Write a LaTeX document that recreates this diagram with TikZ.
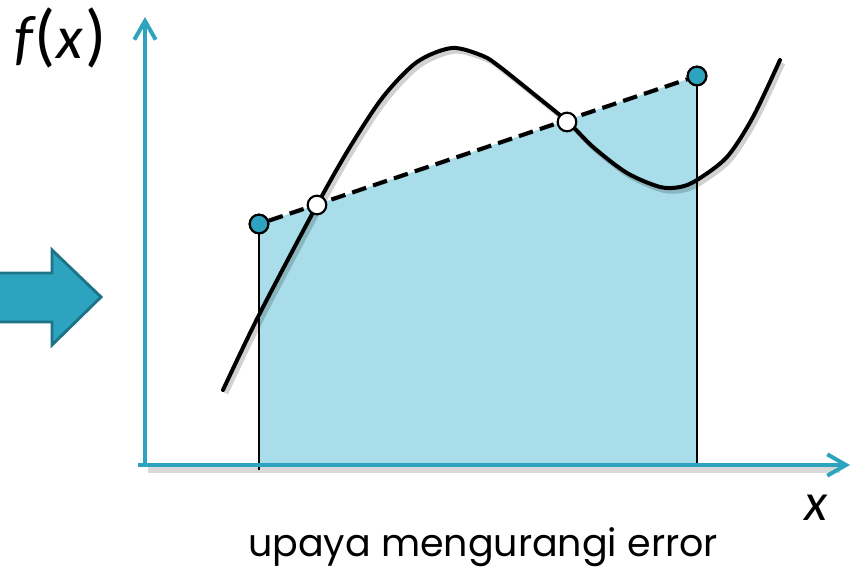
\documentclass[tikz,border=0pt]{standalone}
\usepackage{fontspec}
\setmainfont{Carlito}
\newfontfamily\geo{Poppins}
\usetikzlibrary{arrows.meta}
\definecolor{axisteal}{HTML}{2EA3BF}
\definecolor{tealdark}{HTML}{1D7489}
\definecolor{fillblue}{HTML}{A8DDE9}
\begin{document}
\begin{tikzpicture}[x=0.75pt,y=-0.75pt,
  axisline/.style={axisteal, line width=3pt, -{Straight Barb[length=14pt,width=16pt,line width=3pt]}},
  shadowline/.style={black, opacity=0.18, line width=3.5pt},
  curveline/.style={black, line width=3pt, line cap=round},
  dashline/.style={black, line width=3pt, dash pattern=on 11pt off 5.5pt},
  endpt/.style={circle, draw=black, line width=1.6pt, fill=axisteal, minimum size=14pt, inner sep=0pt},
  midpt/.style={circle, draw=black, line width=1.6pt, fill=white, minimum size=14pt, inner sep=0pt},
  bigarrow/.style={fill=axisteal, draw=tealdark, line width=2.2pt, line join=miter}]
\useasboundingbox (0,0) rectangle (858,573);

% shaded area
\fill[fillblue] (259,465) -- (259,224) -- (697,76) -- (697,465) -- cycle;
\draw[black, line width=1.2pt] (259,224) -- (259,470);
\draw[black, line width=1.2pt] (697,76) -- (697,465);

% axes
\coordinate (o) at (145,465);
\coordinate (ytip) at (145,17);
\coordinate (xtip) at (850,465);
\coordinate (xstart) at (138,465);
\draw[black, opacity=0.15, line width=4pt] (148,470) -- (840,470);
\draw[axisline] (o) -- (ytip);
\draw[axisline] (xstart) -- (xtip);

% curve
\def\curvepts{(223,390) (259,315) (317,205) (350,147) (383,97) (417,62) (452,48) (483,56) (500,67) (535,95) (568,122) (593,147) (627,173) (660,187) (680,187) (697,180) (727,157) (753,117) (780,60)}
\draw[shadowline, xshift=2.2pt, yshift=-2.5pt] plot[smooth, tension=0.5] coordinates {\curvepts};
\draw[curveline] plot[smooth, tension=0.5] coordinates {\curvepts};

% points
\node[endpt] (a) at (259,224) {};
\node[endpt] (d) at (697,76) {};
\draw[shadowline, dash pattern=on 11pt off 5.5pt, xshift=2.2pt, yshift=-2.5pt] (a) -- (d);
\draw[dashline] (a) -- (d);
\node[endpt] at (259,224) {};
\node[endpt] at (697,76) {};
\node[midpt] (b) at (317,205) {};
\node[midpt] (c) at (567,122) {};

% big arrow
\draw[bigarrow] (-5,273) -- (52,273) -- (52,250) -- (101,297) -- (52,345) -- (52,322) -- (-5,322) -- cycle;

% labels
\node[anchor=base west, inner sep=0pt] (fx) at (14,59) {\fontsize{46}{50}\selectfont\itshape f\kern1pt{\upshape\fontsize{52}{56}\selectfont(}\kern1pt x\kern2pt{\upshape\fontsize{52}{56}\selectfont)}};
\node[anchor=base, font=\fontsize{40}{44}\selectfont\itshape, inner sep=0pt] (xl) at (816,521) {x};
\node[anchor=base, font=\geo\fontsize{28.5}{32}\selectfont, inner sep=0pt] (cap) at (483,557) {upaya mengurangi error};
\end{tikzpicture}
\end{document}
